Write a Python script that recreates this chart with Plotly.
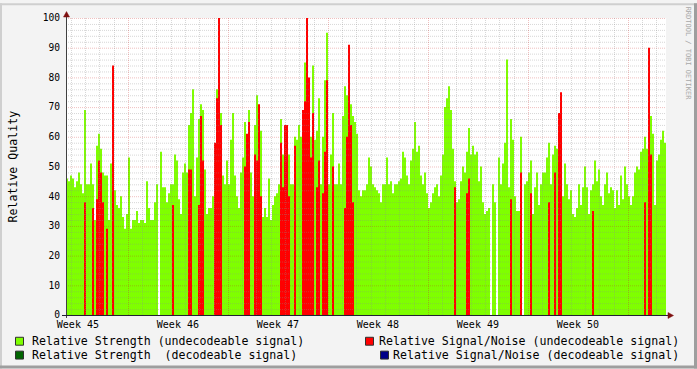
import plotly.graph_objects as go

# ---------------- data ----------------
# one consolidated sample every 3.36 h, 300 samples = 6 weeks (1008 h), hours since start
STEP_H = 3.36

week_labels = ["Week 45", "Week 46", "Week 47", "Week 48", "Week 49", "Week 50"]
week_label_hours = [20, 188, 356, 524, 692, 860]        # middle of each week
week_start_hours = [104, 272, 440, 608, 776, 944]       # Monday 00:00
day_start_hours = [8 + 24 * k for k in range(42)]       # 00:00 of each day

# Relative Strength (undecodeable signal)
strength_undecodeable = [
    46, 45, 47, 46, 43, 45, 48, 44, 41, 69,
    44, 44, 51, 44, 32, 57, 61, 56, 48, 47,
    47, 32, 51, 75, 42, 37, 36, 40, 33, 29,
    34, 53, 29, 32, 32, 35, 31, 32, 32, 31,
    45, 36, 32, 32, 38, 44, None, 55, 43,
    43, 38, 41, 44, 44, 54, 52, 39, 34, 48,
    51, 48, 64, 68, 76, 40, 53, 66, 71, 69,
    49, 34, 36, 36, 40, 47, 76, 96, 68, 47,
    44, 52, 44, 59, 68, 47, 40, 36, 48, 53,
    65, 60, 69, 48, 40, 64, 74, 69, 62, 33,
    36, 33, 46, 32, 37, 40, 41, 44, 66, 54,
    55, 45, 54, 44, 44, 60, 59, 64, 60, 69,
    85, 92, 59, 60, 84, 59, 62, 73, 44, 60,
    79, 95, 44, 54, 68, 44, 44, 51, 44, 67,
    77, 74, 70, 71, 67, 65, 61, 42, 40, 42,
    42, 44, 53, 50, 44, 43, 42, 41, 38, 44,
    44, 53, 44, 45, 41, 44, 44, 45, 46, 55,
    53, 47, 44, 52, 56, 65, 55, 57, 47, 44,
    48, 41, 36, 38, 41, 43, 44, 40, 47, 54,
    70, 73, 77, 69, 56, 45, 38, 39, 45, 50,
    48, 55, 63, 54, 57, 54, 55, 45, 50, 38,
    34, 35, 36, None, 44, 38, None, 53, 44, 51,
    58, 86, 43, 66, 59, 40, 35, 35, 60, None,
    44, 45, 48, 52, 34, 43, 48, 37, 44, 48,
    48, 53, 58, 44, 54, 57, 56, 57, 45, 40,
    51, 44, 39, 42, 34, 33, 36, 44, 37, 43,
    50, 43, 34, 42, 44, 52, 45, 49, 40, 37,
    44, 48, 41, 43, 42, 36, 42, 37, 47, 39,
    50, 44, 40, 37, 40, 48, 50, 49, 55, 56,
    60, 56, 47, 67, 61, 37, 52, 54, 59, 62, 58,
]

# Relative Signal/Noise (undecodeable signal): sample index -> value (absent elsewhere)
snr_undecodeable_samples = {
    9: 38, 13: 36, 15: 39, 16: 52, 17: 48, 18: 38, 20: 29, 23: 84,
    53: 37, 61: 49, 62: 49, 66: 37, 67: 67, 68: 52, 74: 58, 75: 73, 76: 100, 77: 64,
    89: 50, 90: 61, 91: 65, 94: 54, 95: 52, 96: 71, 97: 40,
    107: 58, 108: 43, 109: 64, 110: 64, 111: 40, 114: 57, 118: 69, 119: 72, 120: 100,
    121: 80, 122: 53, 123: 68, 125: 43, 126: 52, 128: 41, 129: 55, 130: 79, 133: 50,
    139: 36, 140: 60, 141: 91, 142: 64, 143: 38,
    194: 43, 200: 41, 201: 46, 222: 39, 227: 48, 232: 41, 241: 38, 244: 48, 246: 68, 247: 75,
    263: 35, 289: 38, 291: 90, 292: 54,
}

# decodeable-signal series: no samples in this period
strength_decodeable = []
snr_decodeable = []

# ---------------- build ----------------
N = len(strength_undecodeable)
SPAN_H = STEP_H * N
snr_undecodeable = [snr_undecodeable_samples.get(i) for i in range(N)]


def step_area(values):
    """rrdtool-style AREA: each sample holds its value for one step; None = unknown (gap).
    Every run of known samples becomes one closed polygon down to zero."""
    xs, ys = [], []
    run = []
    for i, v in enumerate(list(values) + [None]):
        if v is not None:
            run.append(i)
            continue
        if run:
            xs.append(run[0] * STEP_H)
            ys.append(0)
            for j in run:
                xs += [j * STEP_H, (j + 1) * STEP_H]
                ys += [values[j], values[j]]
            xs.append((run[-1] + 1) * STEP_H)
            ys.append(0)
            xs.append(None)
            ys.append(None)
            run = []
    return xs, ys


C_STR_U = "#7FFF00"
C_STR_D = "#006400"
C_SNR_U = "#FF0000"
C_SNR_D = "#000088"
FONT = "DejaVu Sans Mono"

L, T, W, H = 66, 15, 600, 300
FW, FH = 697, 369


def X(px):
    return (px - L) / W


def Y(py):
    return (T + H - py) / H


fig = go.Figure()
for vals, col, name in [
    (strength_undecodeable, C_STR_U, "Relative Strength (undecodeable signal)"),
    (strength_decodeable, C_STR_D, "Relative Strength  (decodeable signal)"),
    (snr_undecodeable, C_SNR_U, "Relative Signal/Noise (undecodeable signal)"),
    (snr_decodeable, C_SNR_D, "Relative Signal/Noise (decodeable signal)"),
]:
    xs, ys = step_area(vals)
    fig.add_trace(go.Scatter(x=xs, y=ys, mode="lines", line=dict(width=0, color=col),
                             fill="toself", fillcolor=col, connectgaps=False,
                             name=name, hoverinfo="skip"))

shapes = []
MINOR = "rgba(140,140,140,0.35)"
MAJOR = "rgba(200,30,30,0.28)"
DASH = "1px,1px"
# horizontal grid (every 2, major every 10)
for v in range(2, 101, 2):
    yv = v - 1 / 6
    shapes.append(dict(type="line", xref="x", yref="y", x0=0, x1=SPAN_H, y0=yv, y1=yv,
                       line=dict(color=MAJOR if v % 10 == 0 else MINOR, width=1, dash=DASH)))
# vertical grid (days, weeks major)
px_per_h = W / SPAN_H
for h in day_start_hours:
    px = round(L + h * px_per_h) + 0.5
    xv = (px - L) / px_per_h
    major = h in week_start_hours
    shapes.append(dict(type="line", xref="x", yref="y", x0=xv, x1=xv, y0=0, y1=100,
                       line=dict(color=MAJOR if major else MINOR, width=1, dash=DASH)))

# axes
AX = "#404040"
shapes.append(dict(type="line", xref="paper", yref="paper", x0=X(66.5), x1=X(66.5), y0=Y(318), y1=Y(12),
                   line=dict(color=AX, width=1)))
shapes.append(dict(type="line", xref="paper", yref="paper", x0=X(62), x1=X(669), y0=Y(315.5), y1=Y(315.5),
                   line=dict(color="#202030", width=1)))
ARW = "#7F1010"
shapes.append(dict(type="path", xref="paper", yref="paper",
                   path=f"M {X(63.5)},{Y(14)} L {X(66.5)},{Y(8.5)} L {X(69.5)},{Y(14)} Z",
                   fillcolor=ARW, line=dict(color=ARW, width=0.5)))
shapes.append(dict(type="path", xref="paper", yref="paper",
                   path=f"M {X(668)},{Y(312.5)} L {X(673.5)},{Y(315.5)} L {X(668)},{Y(318.5)} Z",
                   fillcolor=ARW, line=dict(color=ARW, width=0.5)))

# 3D frame of the canvas
shapes.append(dict(type="rect", xref="paper", yref="paper", x0=X(0), x1=X(FW), y0=Y(0), y1=Y(2),
                   fillcolor="#CFCFCF", line_width=0, layer="below"))
shapes.append(dict(type="rect", xref="paper", yref="paper", x0=X(0), x1=X(2), y0=Y(0), y1=Y(FH),
                   fillcolor="#CFCFCF", line_width=0, layer="below"))
shapes.append(dict(type="rect", xref="paper", yref="paper", x0=X(FW - 3), x1=X(FW), y0=Y(0), y1=Y(FH),
                   fillcolor="#9E9E9E", line_width=0, layer="below"))
shapes.append(dict(type="rect", xref="paper", yref="paper", x0=X(0), x1=X(FW), y0=Y(FH - 3), y1=Y(FH),
                   fillcolor="#9E9E9E", line_width=0, layer="below"))

# legend boxes
legend_items = [
    (15, 337, C_STR_U, "Relative Strength (undecodeable signal)", 30, "left"),
    (15, 351, C_STR_D, "Relative Strength  (decodeable signal)", 30, "left"),
    (365, 337, C_SNR_U, "Relative Signal/Noise (undecodeable signal)", 681, "right"),
    (380, 351, C_SNR_D, "Relative Signal/Noise (decodeable signal)", 681, "right"),
]
annotations = []
for bx, by, col, txt, tx, anchor in legend_items:
    shapes.append(dict(type="rect", xref="paper", yref="paper", x0=X(bx + 0.5), x1=X(bx + 8.5),
                       y0=Y(by + 0.5), y1=Y(by + 8.5), fillcolor=col,
                       line=dict(color="#303030", width=1)))
    annotations.append(dict(text=txt, xref="paper", yref="paper", x=X(tx), y=Y(by + 4.5),
                            xanchor=anchor, yanchor="middle", showarrow=False,
                            font=dict(family=FONT, size=11.6, color="#000000")))

annotations.append(dict(text="Relative Quality", xref="paper", yref="paper", x=X(12), y=Y(165),
                        xanchor="center", yanchor="middle", textangle=-90, showarrow=False,
                        font=dict(family=FONT, size=11.6, color="#000000")))
annotations.append(dict(text="RRDTOOL / TOBI OETIKER", xref="paper", yref="paper", x=X(688), y=Y(51),
                        xanchor="center", yanchor="middle", textangle=90, showarrow=False,
                        font=dict(family=FONT, size=7, color="#A8A8A8")))

fig.update_layout(
    width=FW, height=FH, autosize=False,
    margin=dict(l=L, r=FW - L - W, t=T, b=FH - T - H, pad=0),
    paper_bgcolor="#F3F3F3", plot_bgcolor="#FFFFFF",
    showlegend=False,
    shapes=shapes, annotations=annotations,
    xaxis=dict(range=[0, SPAN_H], tickvals=week_label_hours, ticktext=week_labels,
               showgrid=False, zeroline=False, showline=False, ticks="",
               tickfont=dict(family=FONT, size=10, color="#000000"), ticklabelstandoff=2,
               fixedrange=True),
    yaxis=dict(range=[0, 100], tickvals=list(range(0, 101, 10)),
               showgrid=False, zeroline=False, showline=False, ticks="",
               tickfont=dict(family=FONT, size=9.6, color="#000000"), ticklabelstandoff=5,
               fixedrange=True),
    font=dict(family=FONT),
)

fig.write_html("out.html")
